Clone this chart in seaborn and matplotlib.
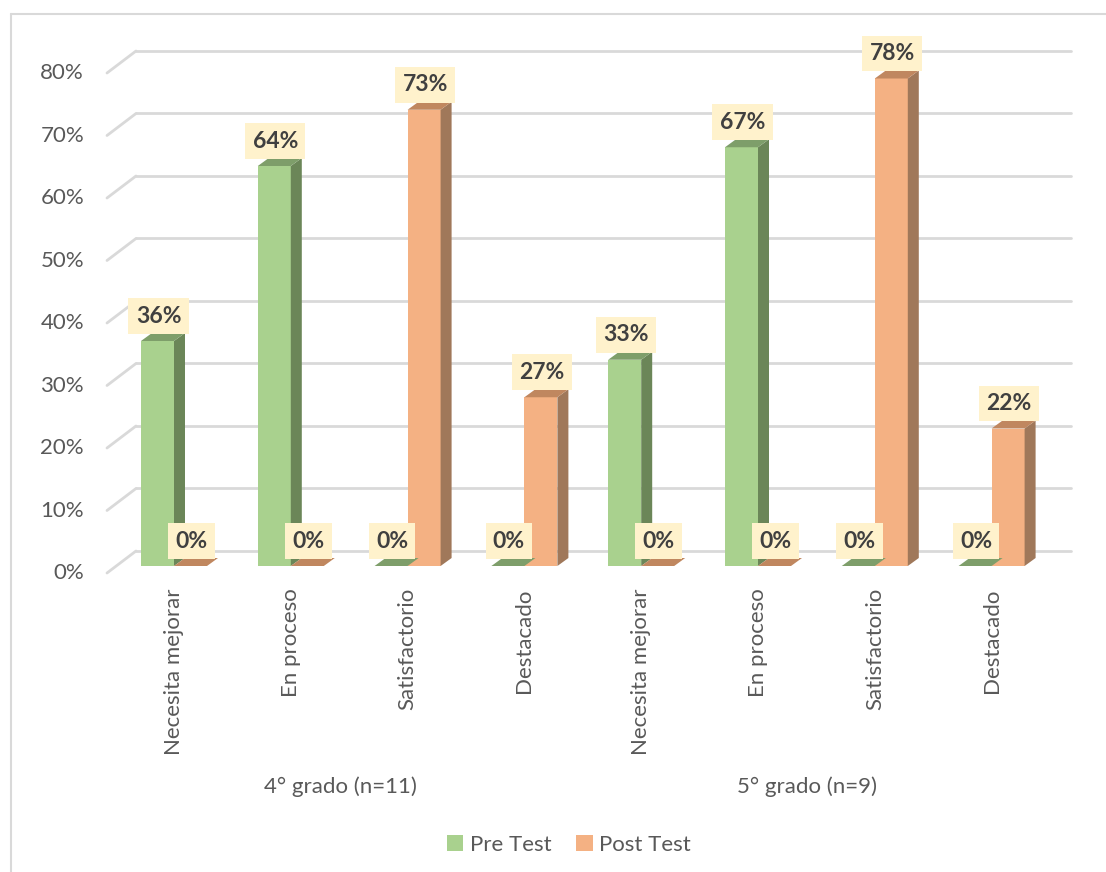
import numpy as np
import pandas as pd
import matplotlib
matplotlib.use("Agg")
import matplotlib.pyplot as plt
import seaborn as sns
from matplotlib.patches import Polygon, Patch
from matplotlib.lines import Line2D
from matplotlib.transforms import ScaledTranslation, blended_transform_factory

# ---------------- data ----------------
categories = ["Necesita mejorar", "En proceso", "Satisfactorio", "Destacado",
              "Necesita mejorar", "En proceso", "Satisfactorio", "Destacado"]
groups = ["4° grado (n=11)", "5° grado (n=9)"]
pre_test = [0.36, 0.64, 0.00, 0.00, 0.33, 0.67, 0.00, 0.00]
post_test = [0.00, 0.00, 0.73, 0.27, 0.00, 0.00, 0.78, 0.22]
series_names = ["Pre Test", "Post Test"]
y_ticks = [0.0, 0.1, 0.2, 0.3, 0.4, 0.5, 0.6, 0.7, 0.8]
y_tick_labels = ["0%", "10%", "20%", "30%", "40%", "50%", "60%", "70%", "80%"]

front_cols = {"Pre Test": "#A9D18E", "Post Test": "#F4B183"}
side_cols = {"Pre Test": "#6B8658", "Post Test": "#A0785A"}
top_cols = {"Pre Test": "#7E9E6A", "Post Test": "#C0875F"}

keys = [f"{i}" for i in range(len(categories))]
df = pd.DataFrame({
    "key": keys * 2,
    "serie": [series_names[0]] * len(keys) + [series_names[1]] * len(keys),
    "valor": pre_test + post_test,
})

# ---------------- figure ----------------
sns.set_theme(style="white")
plt.rcParams["font.family"] = ["Lato", "DejaVu Sans"]
DPI = 100
fig = plt.figure(figsize=(11.06, 8.72), dpi=DPI)
W, H = 1106, 872
ax = fig.add_axes([115.6 / W, 1 - 566 / H, (1050 - 115.6) / W, 500 / H])
ax.set_facecolor("none")

sns.barplot(data=df, x="key", y="valor", hue="serie", order=keys,
            hue_order=series_names, palette=front_cols, width=0.565,
            ax=ax, legend=False, saturation=1, zorder=3, linewidth=0)
ax.set_xlim(-0.5, 7.5)
ax.set_ylim(0, 0.8)
for s in ax.spines.values():
    s.set_visible(False)
ax.set_xlabel("")
ax.set_ylabel("")
ax.set_yticks([])

def to_px(x, y):
    return ax.transData.transform((x, y))

inv = ax.transData.inverted()
DX, DY = 11, 8  # bar depth in pixels

# back-wall gridlines and left wall diagonals
grid_col = "#D9D9D9"
x_front_px = 107
x_back_start = 136
x_back_end = 1071
for v in y_ticks:
    _, ypx = to_px(0, v)
    yb = ypx + 15
    yf = ypx - 7
    ax.add_line(Line2D([x_back_start / W, x_back_end / W], [yb / H, yb / H],
                       transform=fig.transFigure, color=grid_col, lw=2,
                       zorder=0.5, clip_on=False))
    ax.add_line(Line2D([x_front_px / W, x_back_start / W], [yf / H, yb / H],
                       transform=fig.transFigure, color=grid_col, lw=2,
                       zorder=0.5, clip_on=False))

# y tick labels at the front wall
ylab_trans = ax.get_yaxis_transform() + ScaledTranslation(0, -7 / DPI, fig.dpi_scale_trans)
for v, lab in zip(y_ticks, y_tick_labels):
    ax.text((84 - 115.6) / (1050 - 115.6), v, lab, transform=ylab_trans,
            ha="right", va="center", fontsize=16, color="#595959")

# 3D faces and data labels
bars = [p for p in ax.patches]
bar_series = [series_names[0]] * len(keys) + [series_names[1]] * len(keys)
for p, ser in zip(bars, bar_series):
    x0 = p.get_x()
    w = p.get_width()
    h = p.get_height()
    (px0, py0) = to_px(x0, 0)
    (px1, py1) = to_px(x0 + w, h)
    side = [(px1, py0), (px1 + DX, py0 + DY), (px1 + DX, py1 + DY), (px1, py1)]
    top = [(px0, py1), (px0 + DX, py1 + DY), (px1 + DX, py1 + DY), (px1, py1)]
    for pts, col, z in ((side, side_cols[ser], 3.1), (top, top_cols[ser], 3.2)):
        dpts = inv.transform(pts)
        ax.add_patch(Polygon(dpts, closed=True, facecolor=col, edgecolor="none",
                             zorder=z, clip_on=False))
    ax.annotate(f"{h * 100:.0f}%", xy=(x0 + w / 2, h), xytext=(1, 25),
                textcoords="offset pixels", ha="center", va="center",
                fontsize=16.5, fontweight="bold", color="#404040", zorder=5,
                annotation_clip=False,
                bbox=dict(boxstyle="square,pad=0.32", facecolor="#FFF2CC",
                          edgecolor="none"))

# category tick labels
ax.set_xticks(range(len(categories)))
ax.set_xticklabels(categories, rotation=90, fontsize=16, color="#595959")
ax.tick_params(axis="x", length=0, pad=16)
for t in ax.get_xticklabels():
    t.set_va("top")
    t.set_ha("center")

# group labels
gtrans = blended_transform_factory(ax.transData, fig.transFigure)
shift = 9 / 116.86
ax.text(1.5 - shift, 1 - 787 / H, groups[0], transform=gtrans, ha="center", va="center",
        fontsize=16, color="#595959")
ax.text(5.5 - shift, 1 - 787 / H, groups[1], transform=gtrans, ha="center", va="center",
        fontsize=16, color="#595959")

# legend
handles = [Patch(facecolor=front_cols[s], edgecolor="none", label=s) for s in series_names]
fig.legend(handles=handles, loc="center", bbox_to_anchor=(569 / W, 1 - 845 / H),
           ncol=2, frameon=False, fontsize=16, handlelength=0.75, handleheight=0.75,
           handletextpad=0.3, columnspacing=1.1, labelcolor="#595959")

# chart border (left and top edges)
fig.add_artist(Line2D([10.5 / W, 10.5 / W], [0, 1 - 14.5 / H], transform=fig.transFigure,
                      color="#D9D9D9", lw=1.5))
fig.add_artist(Line2D([10.5 / W, 1], [1 - 14.5 / H, 1 - 14.5 / H], transform=fig.transFigure,
                      color="#D9D9D9", lw=1.5))

fig.savefig("out.png", dpi=DPI, facecolor="white")
